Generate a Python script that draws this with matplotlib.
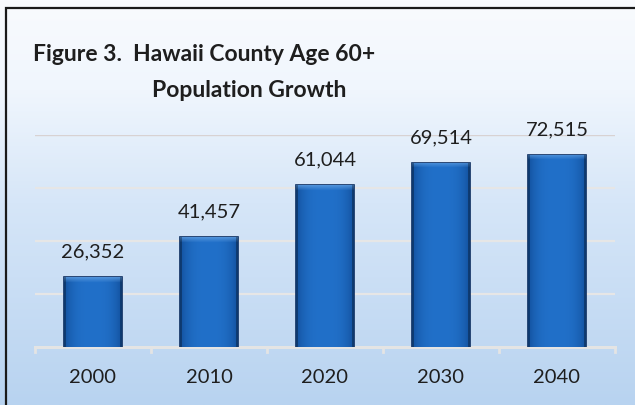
import numpy as np
import matplotlib
matplotlib.use("Agg")
import matplotlib.pyplot as plt
from matplotlib.colors import LinearSegmentedColormap, to_rgb
from matplotlib.patches import Rectangle

plt.rcParams['font.family'] = ['Lato', 'DejaVu Sans']

# --- data
years = ["2000", "2010", "2020", "2030", "2040"]
population = [26352, 41457, 61044, 69514, 72515]
grid_values = [20000, 40000, 60000, 80000]

W, H = 635, 405
fig = plt.figure(figsize=(W / 100, H / 100), dpi=100)

# --- page background: white at the top fading to pale blue
bg = fig.add_axes([0, 0, 1, 1], zorder=-10)
bg_cmap = LinearSegmentedColormap.from_list(
    "bg", [(0.0, "#f9fbfe"), (0.22, "#f0f6fd"), (0.5, "#d6e6f8"), (1.0, "#b8d3f0")])
bg.imshow(np.linspace(0, 1, 256)[:, None], aspect="auto", cmap=bg_cmap,
          extent=[0, 1, 0, 1], origin="upper")
bg.set_axis_off()

# frame line (left and top edges only show)
fig.patches.append(Rectangle((6 / W, -0.5), 2.0, 0.5 + 1 - 7.5 / H,
                             transform=fig.transFigure, fill=False,
                             edgecolor="#1a1a1a", linewidth=1.6))

# --- main axes
ax = fig.add_axes([35 / W, 58 / H, 580 / W, 212 / H])
ax.patch.set_alpha(0)
x = np.arange(len(years))

# gridlines
for g in grid_values:
    col = "#e6e6e6" if g < 80000 else "#d8d2d2"
    ax.axhline(g, color=col, linewidth=1.6 if g < 80000 else 1.0, zorder=1)

bars = ax.bar(x, population, width=0.5, color="#1a66c0",
              edgecolor="#0b2c5e", linewidth=1.2, zorder=3)

# shaded fill for each bar: darker sides, lighter bevel along the top
dark = np.array(to_rgb("#13529f"))
mid = np.array(to_rgb("#2170c9"))
light = np.array(to_rgb("#5e9de0"))
px_per_unit = 212 / 80000
for rect, val in zip(bars, population):
    rows = max(int(val * px_per_unit), 8)
    cols = 58
    u = np.linspace(-1, 1, cols)
    prof = 1 - np.abs(u) ** 3
    row_img = dark[None, :] + (mid - dark)[None, :] * prof[:, None]
    img = np.repeat(row_img[None, :, :], rows, axis=0)
    bevel = 5
    for r in range(bevel):
        t = 1 - r / bevel
        img[r] = img[r] * (1 - 0.75 * t) + light * 0.75 * t
    img[:, :2] = img[:, :2] * 0.7
    img[:, -2:] = img[:, -2:] * 0.7
    x0 = rect.get_x()
    im = ax.imshow(img, extent=[x0, x0 + rect.get_width(), 0, val],
                   aspect="auto", origin="upper", zorder=3.5,
                   interpolation="bilinear")
    im.set_clip_path(rect)
ax.set_xlim(-0.5, len(years) - 0.5)
ax.set_ylim(0, 80000)

# value labels
for xi, val in zip(x, population):
    ax.annotate(f"{val:,}", (xi, val), xytext=(0, 12), textcoords="offset points",
                ha="center", va="bottom", fontsize=14.5, color="#1e1e1e")

# axis line along the bottom with boundary ticks
ax.axhline(0, color="#e4e4e4", linewidth=2.2, zorder=2, clip_on=False)
for b in np.arange(-0.5, len(years), 1.0):
    ax.plot([b, b], [0, -1700], color="#e4e4e4", linewidth=2.0,
            clip_on=False, zorder=2)

for s in ax.spines.values():
    s.set_visible(False)
ax.set_yticks([])
ax.set_xticks(x)
ax.set_xticklabels(years, fontsize=14.5, color="#1e1e1e")
ax.tick_params(axis="x", length=0, pad=16)

# title, two lines
fig.text(33 / W, 1 - 61 / H, "Figure 3.  Hawaii County Age 60+",
         fontsize=16.5, fontweight="bold", color="#1e1e1e", va="baseline", ha="left")
fig.text(249 / W, 1 - 97 / H, "Population Growth",
         fontsize=16.5, fontweight="bold", color="#1e1e1e", va="baseline", ha="center")

fig.savefig("out.png", dpi=100)
